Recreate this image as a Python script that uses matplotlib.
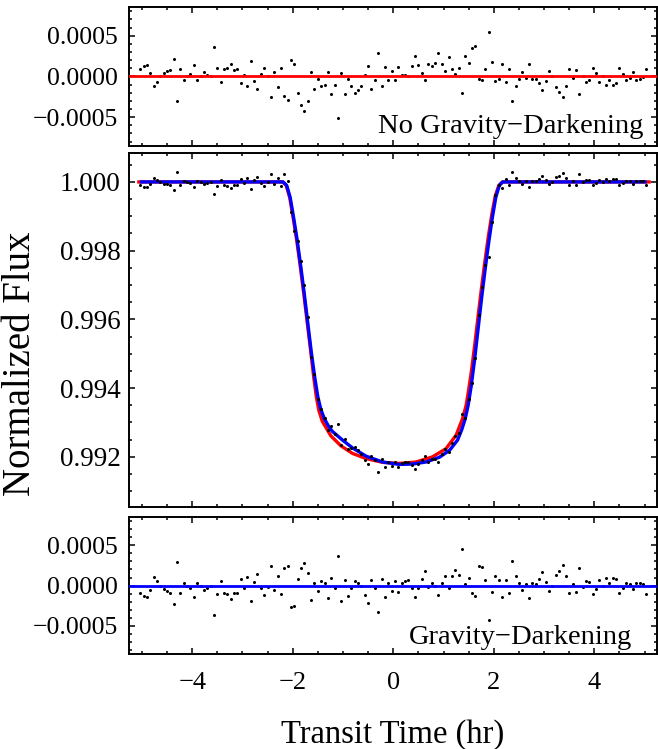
import matplotlib
matplotlib.use("Agg")
import matplotlib.pyplot as plt
from matplotlib.ticker import MultipleLocator, FuncFormatter

plt.rcParams['font.family'] = ['Liberation Serif', 'DejaVu Serif']

# cadence times (minutes from mid-transit)
time_min = [-302, -298, -294, -290, -286, -282, -278, -274, -270, -266,
            -262, -258, -254, -250, -246, -242, -238, -234, -230, -226,
            -222, -218, -214, -210, -206, -202, -198, -194, -190, -186,
            -182, -178, -174, -170, -166, -162, -158, -154, -150, -146,
            -142, -138, -134, -130, -126, -122, -118, -114, -110, -106,
            -102, -98, -94, -90, -86, -82, -78, -74, -70, -66,
            -62, -58, -54, -50, -46, -42, -38, -34, -30, -26,
            -22, -18, -14, -10, -6, -2, 2, 6, 10, 14,
            18, 22, 26, 30, 34, 38, 42, 46, 50, 54,
            58, 62, 66, 70, 74, 78, 82, 86, 90, 94,
            98, 102, 106, 110, 114, 118, 122, 126, 130, 134,
            138, 142, 146, 150, 154, 158, 162, 166, 170, 174,
            178, 182, 186, 190, 194, 198, 202, 206, 210, 214,
            218, 222, 226, 230, 234, 238, 242, 246, 250, 254,
            258, 262, 266, 270, 274, 278, 282, 286, 290, 294,
            298, 302]

# normalized flux
flux = [0.999906, 0.999865, 0.999857, 0.999947, 1.000107, 1.000061, 1.000000, 0.999951, 0.999930, 0.999910,
        0.999775, 1.000291, 0.999902, 1.000029, 1.000000, 0.999967, 0.999857, 1.000037, 1.000000, 0.999939,
        0.999967, 1.000000, 0.999635, 0.999893, 1.000053, 0.999902, 0.999890, 0.999836, 0.999910, 0.999902,
        1.000078, 0.999975, 1.000107, 0.999807, 1.000049, 1.000139, 0.999963, 0.999885, 0.999984, 1.000242,
        0.999939, 1.000119, 0.999890, 1.000217, 1.000038, 0.999138, 0.998580, 0.998268, 0.997687, 0.996993,
        0.996056, 0.994906, 0.994407, 0.993680, 0.993403, 0.993137, 0.992770, 0.992888, 0.992657, 0.992965,
        0.992331, 0.992506, 0.992233, 0.992261, 0.992281, 0.992197, 0.992090, 0.991917, 0.991779, 0.992030,
        0.991905, 0.991564, 0.991938, 0.991701, 0.991863, 0.991740, 0.991861, 0.991694, 0.991817, 0.991837,
        0.991864, 0.991757, 0.991657, 0.991795, 0.991916, 0.992034, 0.991864, 0.991947, 0.991935, 0.991865,
        0.992077, 0.992223, 0.992137, 0.992403, 0.992597, 0.992695, 0.993261, 0.993140, 0.993688, 0.994142,
        0.994885, 0.996122, 0.996955, 0.997584, 0.997824, 0.998838, 0.999613, 0.999920, 0.999837, 1.000074,
        0.999902, 1.000303, 1.000123, 1.000033, 0.999947, 1.000016, 0.999848, 1.000033, 1.000020, 1.000086,
        1.000164, 1.000049, 0.999926, 1.000000, 1.000135, 1.000184, 1.000250, 1.000119, 0.999910, 1.000016,
        0.999918, 1.000217, 0.999984, 1.000061, 1.000045, 0.999898, 0.999955, 1.000070, 1.000000, 1.000098,
        1.000037, 1.000098, 1.000086, 0.999902, 0.999971, 1.000037, 1.000016, 0.999951, 1.000037, 1.000029,
        1.000016, 0.999898]

# residuals, in units of 1e-4
resid_no_gd = [0.86, 1.27, 1.35, 0.45, -1.15, -0.70, 0.00, 0.41, 0.62, 0.78,
               2.17, -2.99, 0.86, -0.41, 0.00, 0.25, 1.35, -0.49, 0.00, 0.53,
               0.20, 0.00, 3.57, 0.98, -0.62, 0.86, 0.98, 1.56, 0.82, 0.86,
               -0.82, 0.16, -1.15, 1.85, -0.57, -1.48, 0.29, 1.03, 0.08, -2.50,
               0.53, -1.27, 1.07, -2.42, -2.83, 2.00, 1.56, -1.97, -3.50, -4.20,
               -3.05, 0.50, -1.48, -0.25, -1.15, -1.07, 0.57, -2.21, -1.03, -5.06,
               0.38, -2.21, -0.29, -1.23, -1.97, -1.70, -1.23, 0.16, 1.23, -1.56,
               -0.49, 2.83, -1.19, 1.11, -0.45, 0.70, -0.45, 1.19, 0.20, 0.15,
               0.00, 1.23, 2.46, 1.39, 0.41, -0.49, 1.56, 1.23, 1.68, 2.91,
               1.52, 0.70, 2.38, 0.94, 0.33, 1.03, -1.97, 2.54, 1.64, 3.49,
               3.69, -0.29, -0.41, 0.86, 5.49, 1.72, -0.57, -0.37, 1.48, -0.74,
               0.94, -2.99, -1.23, -0.37, 0.49, -0.16, 1.56, -0.33, -0.25, -0.86,
               -1.64, -0.53, 0.70, 0.00, -1.35, -1.85, -2.54, -1.19, 0.90, -0.20,
               0.78, -2.17, 0.10, -0.62, -0.45, 0.98, 0.45, -0.74, 0.00, -1.03,
               -0.45, -1.03, -0.86, 0.98, 0.33, -0.45, -0.16, 0.49, -0.45, -0.29,
               -0.12, 0.94]

resid_gd = [-0.94, -1.35, -1.43, -0.53, 1.07, 0.61, 0.00, -0.49, -0.70, -0.90,
            -2.25, 2.91, -0.98, 0.29, 0.00, -0.33, -1.43, 0.37, 0.00, -0.61,
            -0.33, 0.00, -3.65, -1.07, 0.53, -0.98, -1.10, -1.64, -0.90, -0.98,
            0.78, -0.25, 1.07, -1.93, 0.49, 1.39, -0.37, -1.15, -0.16, 2.42,
            -0.61, 1.19, -1.10, 2.17, 2.38, -2.62, -2.50, 0.78, 2.17, 2.83,
            1.56, -1.84, 0.37, -0.70, 0.53, 0.37, -1.60, 0.98, -0.33, 3.65,
            -1.89, 0.66, -1.27, -0.29, 0.61, 0.37, -0.10, -1.23, -2.21, 0.70,
            -0.25, -3.36, 0.78, -1.39, 0.33, -0.70, 0.61, -0.86, 0.37, 0.57,
            0.74, -0.33, -1.43, -0.25, 0.86, 1.84, -0.16, 0.37, -0.05, -1.15,
            0.37, 1.23, -0.33, 1.23, 1.97, 1.35, 4.51, 0.20, 0.98, -0.98,
            -1.35, 2.42, 2.25, 0.74, -4.26, -0.82, 1.23, 0.70, -1.43, 0.74,
            -0.98, 3.03, 1.23, 0.33, -0.53, 0.16, -1.52, 0.33, 0.20, 0.86,
            1.64, 0.49, -0.74, 0.00, 1.35, 1.84, 2.50, 1.19, -0.90, 0.16,
            -0.82, 2.17, -0.16, 0.61, 0.45, -1.02, -0.45, 0.70, 0.00, 0.98,
            0.37, 0.98, 0.86, -0.98, -0.29, 0.37, 0.16, -0.49, 0.37, 0.29,
            0.16, -1.02]

# model curves (hours, flux)
red_t = [-5.06, -2.20, -2.13, -2.06, -1.99, -1.92, -1.85, -1.78, -1.71, -1.64,
         -1.58, -1.53, -1.48, -1.41, -1.24, -1.04, -0.81, -0.54, -0.21, 0.12,
         0.45, 0.78, 1.05, 1.25, 1.38, 1.45, 1.50, 1.56, 1.62, 1.68,
         1.75, 1.82, 1.89, 1.96, 2.03, 2.10, 2.17, 5.09]
red_f = [1.0, 1.0, 0.99990, 0.99955, 0.99895, 0.99830, 0.99755, 0.99675, 0.99590, 0.99505,
         0.99430, 0.99375, 0.99335, 0.99303, 0.99261, 0.99232, 0.99210, 0.99195, 0.99184, 0.99181,
         0.99185, 0.99200, 0.99224, 0.99263, 0.99312, 0.99350, 0.99395, 0.99455, 0.99525, 0.99600,
         0.99685, 0.99765, 0.99840, 0.99905, 0.99960, 0.99990, 1.0, 1.0]

blue_t = [-5.01, -2.19, -2.12, -2.05, -1.98, -1.91, -1.84, -1.77, -1.70, -1.63,
          -1.56, -1.50, -1.44, -1.37, -1.29, -1.21, -1.01, -0.81, -0.54, -0.21,
          0.12, 0.38, 0.65, 0.92, 1.12, 1.28, 1.36, 1.43, 1.49, 1.55,
          1.62, 1.69, 1.76, 1.83, 1.90, 1.97, 2.04, 2.11, 2.18, 5.01]
blue_f = [1.0, 1.0, 0.99990, 0.99955, 0.99895, 0.99830, 0.99755, 0.99675, 0.99590, 0.99505,
          0.99430, 0.99375, 0.99338, 0.99311, 0.99290, 0.99274, 0.99249, 0.99226, 0.99202, 0.99185,
          0.99178, 0.99179, 0.99185, 0.99199, 0.99219, 0.99249, 0.99278, 0.99310, 0.99350, 0.99405,
          0.99485, 0.99575, 0.99665, 0.99748, 0.99825, 0.99895, 0.99955, 0.99990, 1.0, 1.0]

hours = [m / 60 for m in time_min]
res_top = [v * 1e-4 for v in resid_no_gd]
res_bot = [v * 1e-4 for v in resid_gd]


def fmt(decimals):
    def f(x, pos):
        if abs(x) < 1e-12:
            x = 0.0
        return f"{x:.{decimals}f}".replace("-", "\u2212")
    return FuncFormatter(f)


def style(ax):
    for s in ax.spines.values():
        s.set_linewidth(1.4)
    ax.tick_params(which='both', direction='in', top=True, right=True, width=1.1)
    ax.tick_params(which='major', length=4.2)
    ax.tick_params(which='minor', length=2.4)
    ax.xaxis.set_major_locator(MultipleLocator(2))
    ax.xaxis.set_minor_locator(MultipleLocator(0.5))
    ax.set_xlim(-5.25, 5.24)


fig = plt.figure(figsize=(6.58, 7.49), dpi=100)
ax_top = fig.add_axes([0.1965, 0.8055, 0.8015, 0.1848])
ax_mid = fig.add_axes([0.1965, 0.3235, 0.8015, 0.4726])
ax_bot = fig.add_axes([0.1965, 0.1272, 0.8015, 0.1821])

# top: residuals without gravity darkening
ax_top.plot(hours, res_top, 'o', color='black', ms=2.2, mew=0, zorder=2)
ax_top.axhline(0, color='#ff0000', lw=2.0, zorder=3)
style(ax_top)
ax_top.set_ylim(-0.00085, 0.00085)
ax_top.yaxis.set_major_locator(MultipleLocator(0.0005))
ax_top.yaxis.set_minor_locator(MultipleLocator(0.0001))
ax_top.yaxis.set_major_formatter(fmt(4))
ax_top.tick_params(axis='y', labelsize=18.5, pad=8.4)
ax_top.tick_params(axis='x', labelbottom=False)
ax_top.text(0.974, 0.092, "No Gravity\u2212Darkening", transform=ax_top.transAxes,
            ha='right', va='baseline', fontsize=20.5)

# middle: light curve with both models
ax_mid.plot(red_t, red_f, color='#ff0000', lw=2.4, zorder=2)
ax_mid.plot(blue_t, blue_f, color='#0000ff', lw=2.4, zorder=3)
ax_mid.plot(hours, flux, 'o', color='black', ms=2.2, mew=0, zorder=4)
style(ax_mid)
ax_mid.set_ylim(0.99055, 1.00085)
ax_mid.yaxis.set_major_locator(MultipleLocator(0.002))
ax_mid.yaxis.set_minor_locator(MultipleLocator(0.0005))
ax_mid.yaxis.set_major_formatter(fmt(3))
ax_mid.tick_params(axis='y', labelsize=19.5, pad=6.2)
ax_mid.tick_params(axis='x', labelbottom=False)

# bottom: residuals with gravity darkening
ax_bot.plot(hours, res_bot, 'o', color='black', ms=2.2, mew=0, zorder=2)
ax_bot.axhline(0, color='#0000ff', lw=2.0, zorder=3)
style(ax_bot)
ax_bot.set_ylim(-0.00085, 0.00085)
ax_bot.yaxis.set_major_locator(MultipleLocator(0.0005))
ax_bot.yaxis.set_minor_locator(MultipleLocator(0.0001))
ax_bot.yaxis.set_major_formatter(fmt(4))
ax_bot.xaxis.set_major_formatter(fmt(0))
ax_bot.tick_params(axis='y', labelsize=18.5, pad=8.4)
ax_bot.tick_params(axis='x', labelsize=19, pad=13)
ax_bot.text(0.953, 0.071, "Gravity\u2212Darkening", transform=ax_bot.transAxes,
            ha='right', va='baseline', fontsize=20.5)

fig.text(21 / 658, 1 - 364 / 749, "Normalized Flux", rotation=90,
         ha='center', va='center', fontsize=28)
fig.text(393 / 658, 1 - 742.7 / 749, "Transit Time (hr)",
         ha='center', va='baseline', fontsize=23.5)

fig.savefig('out.png', dpi=100)
